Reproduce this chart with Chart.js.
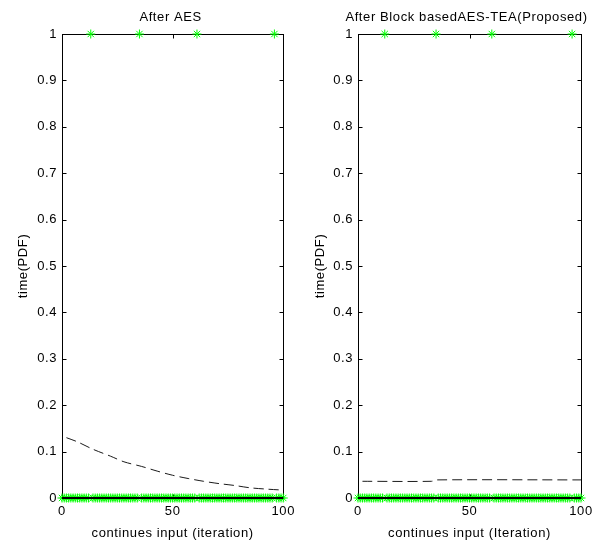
<!DOCTYPE html>
<html>
<head>
<meta charset="utf-8">
<script src="https://cdn.jsdelivr.net/npm/chart.js@4.4.0/dist/chart.umd.min.js"></script>
<style>
  html, body { margin: 0; padding: 0; background: #fff; overflow: hidden; }
  #wrap { position: relative; width: 602px; height: 544px; overflow: hidden; }
  canvas { position: absolute; top: 0; }
  #chartAES { left: 0; }
  #chartProposed { left: 301px; }
</style>
</head>
<body>
<div id="wrap">
  <canvas id="chartAES" width="301" height="544"></canvas>
  <canvas id="chartProposed" width="301" height="544"></canvas>
</div>
<script>
// ---- data -------------------------------------------------------------
const titleAES = 'After AES';
const titleProposed = 'After Block basedAES-TEA(Proposed)';
const xTitleAES = 'continues input (iteration)';
const xTitleProposed = 'continues input (Iteration)';
const yTitle = 'time(PDF)';

const xTickValues = [0, 50, 100];
const yTickValues = [0, 0.1, 0.2, 0.3, 0.4, 0.5, 0.6, 0.7, 0.8, 0.9, 1];

// PDF value per iteration 0..100
const pdfAES = [
  0,0,0,0,0,0,0,0,0,0,
  0,0,0,1,0,0,0,0,0,0,
  0,0,0,0,0,0,0,0,0,0,
  0,0,0,0,0,1,0,0,0,0,
  0,0,0,0,0,0,0,0,0,0,
  0,0,0,0,0,0,0,0,0,0,
  0,1,0,0,0,0,0,0,0,0,
  0,0,0,0,0,0,0,0,0,0,
  0,0,0,0,0,0,0,0,0,0,
  0,0,0,0,0,0,1,0,0,0,
  0
];
const pdfProposed = [
  0,0,0,0,0,0,0,0,0,0,
  0,0,1,0,0,0,0,0,0,0,
  0,0,0,0,0,0,0,0,0,0,
  0,0,0,0,0,1,0,0,0,0,
  0,0,0,0,0,0,0,0,0,0,
  0,0,0,0,0,0,0,0,0,0,
  1,0,0,0,0,0,0,0,0,0,
  0,0,0,0,0,0,0,0,0,0,
  0,0,0,0,0,0,0,0,0,0,
  0,0,0,0,0,0,1,0,0,0,
  0
];

// dashed timing curves
const curveAESx = [2, 7, 14, 22, 28, 36, 43, 50, 57, 64, 71, 78, 85, 93, 100];
const curveAESy = [0.130, 0.121, 0.105, 0.090, 0.078, 0.068, 0.058, 0.049, 0.042, 0.036, 0.031, 0.027, 0.022, 0.019, 0.017];
const curveProposedX = [2, 33, 35, 100];
const curveProposedY = [0.036, 0.036, 0.039, 0.039];

// baseline drawn along zero
const baselineX = [0, 100];
const baselineY = [0, 0];

// ---- helpers ----------------------------------------------------------
const FONT = { family: '"Liberation Sans", Arial, sans-serif', size: 13 };
const SPACING = '0.6px';

const points = (xs, ys) => xs.map((x, i) => ({ x, y: ys[i] }));
const pdfPoints = arr => arr.map((y, i) => ({ x: i, y }));

// letter spacing has to be re-applied after each canvas reset
const spacingPlugin = {
  id: 'spacing',
  beforeUpdate(chart) { chart.ctx.letterSpacing = SPACING; },
  beforeLayout(chart) { chart.ctx.letterSpacing = SPACING; },
  beforeDraw(chart) { chart.ctx.letterSpacing = SPACING; }
};

// plot title centred above the axes box (may run wider than the box)
const headingPlugin = {
  id: 'heading',
  afterDraw(chart, args, opts) {
    const { ctx, chartArea: a } = chart;
    ctx.save();
    ctx.letterSpacing = SPACING;
    ctx.fillStyle = '#000';
    ctx.font = `${FONT.size}px ${FONT.family}`;
    ctx.textAlign = 'center';
    ctx.textBaseline = 'middle';
    ctx.fillText(opts.text, (a.left + a.right) / 2 + (opts.shift || 0), opts.y);
    ctx.restore();
  }
};

// axes box with inward tick marks on all four sides
const boxPlugin = {
  id: 'box',
  beforeDatasetsDraw(chart) {
    const { ctx, chartArea: a, scales: { x, y } } = chart;
    ctx.save();
    ctx.strokeStyle = '#000';
    ctx.lineWidth = 1;
    const L = Math.round(a.left) + 0.5, R = Math.round(a.right) + 0.5;
    const T = Math.round(a.top) + 0.5, B = Math.round(a.bottom) + 0.5;
    ctx.strokeRect(L, T, R - L, B - T);
    const len = 4;
    ctx.beginPath();
    xTickValues.forEach(v => {
      const px = Math.round(x.getPixelForValue(v)) + 0.5;
      ctx.moveTo(px, B); ctx.lineTo(px, B - len);
      ctx.moveTo(px, T); ctx.lineTo(px, T + len);
    });
    yTickValues.forEach(v => {
      const py = Math.round(y.getPixelForValue(v)) + 0.5;
      ctx.moveTo(L, py); ctx.lineTo(L + len, py);
      ctx.moveTo(R, py); ctx.lineTo(R - len, py);
    });
    ctx.stroke();
    ctx.restore();
  }
};

function makeChart(id, cfg) {
  return new Chart(document.getElementById(id), {
    type: 'line',
    data: {
      datasets: [
        {
          data: points(baselineX, baselineY),
          borderColor: '#000',
          borderWidth: 2,
          pointRadius: 0,
          clip: false
        },
        {
          data: cfg.curve,
          borderColor: '#1a1a1a',
          borderWidth: 1,
          borderDash: [10, 5],
          pointRadius: 0,
          tension: 0.3
        },
        {
          data: cfg.pdf,
          showLine: false,
          pointStyle: 'star',
          pointRadius: 4.5,
          pointBorderColor: '#00ff00',
          pointBackgroundColor: '#00ff00',
          pointBorderWidth: 1,
          clip: false
        }
      ]
    },
    options: {
      responsive: false,
      animation: false,
      events: [],
      layout: { padding: { left: 0, right: cfg.padRight, top: 34, bottom: 0 } },
      plugins: {
        legend: { display: false },
        tooltip: { enabled: false },
        title: { display: false },
        heading: { text: cfg.title, y: 17, shift: cfg.titleShift }
      },
      scales: {
        x: {
          type: 'linear',
          min: 0, max: 100,
          grid: { display: false, drawTicks: false },
          border: { display: false },
          ticks: {
            stepSize: 50,
            color: '#000',
            font: FONT,
            padding: 6,
            maxRotation: 0,
            callback: v => String(v)
          },
          title: {
            display: true,
            text: cfg.xTitle,
            color: '#000',
            font: FONT,
            padding: { top: 0, bottom: 3 }
          },
          afterFit(s) { s.height = 46; }
        },
        y: {
          type: 'linear',
          min: 0, max: 1,
          grid: { display: false, drawTicks: false },
          border: { display: false },
          ticks: {
            stepSize: 0.1,
            color: '#000',
            font: FONT,
            padding: 5,
            callback: v => String(+v.toFixed(1))
          },
          title: {
            display: true,
            text: yTitle,
            color: '#000',
            font: FONT,
            padding: { top: cfg.yTitlePad, bottom: 0 }
          },
          afterFit(s) { s.width = cfg.yWidth; }
        }
      }
    },
    plugins: [spacingPlugin, boxPlugin, headingPlugin]
  });
}

makeChart('chartAES', {
  title: titleAES,
  titleShift: -2,
  xTitle: xTitleAES,
  pdf: pdfPoints(pdfAES),
  curve: points(curveAESx, curveAESy),
  padRight: 16,
  yWidth: 62,
  yTitlePad: 16
});

makeChart('chartProposed', {
  title: titleProposed,
  titleShift: -3,
  xTitle: xTitleProposed,
  pdf: pdfPoints(pdfProposed),
  curve: points(curveProposedX, curveProposedY),
  padRight: 21,
  yWidth: 57,
  yTitlePad: 12
});
</script>
</body>
</html>
